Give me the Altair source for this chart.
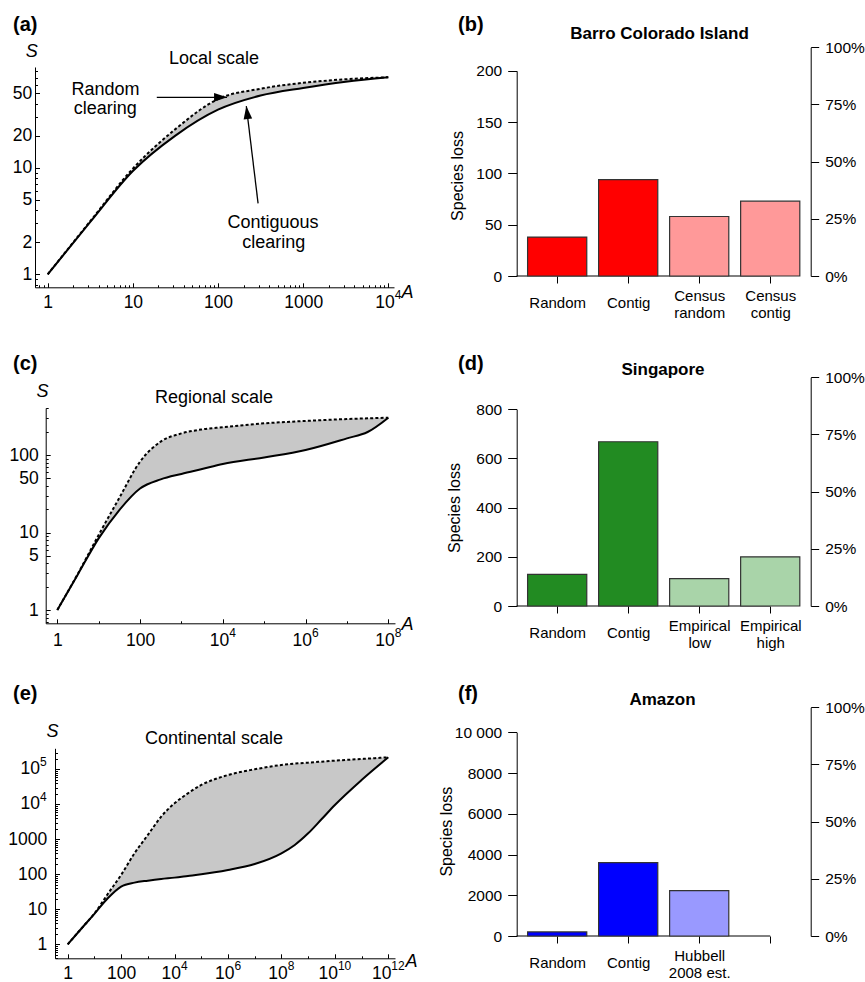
import json
import altair as alt
import pandas as pd

W, H = 865, 982
FONT = "Liberation Sans"

# ---------------- species-area curves: species S at area A ----------------
local_area = [1, 3.16, 10, 31.6, 100, 316, 1000, 3160, 10000]
local_random = [1, 3.15, 9.8, 23, 44, 55, 62.5, 67.5, 70.5]
local_contig = [1, 3.1, 9.3, 20, 35, 47.5, 56, 64, 70.5]

regional_area = [1, 3.16, 10, 31.6, 100, 316, 1e3, 3.16e3, 1e4, 1e5, 1e6, 1e7, 3.16e7, 1e8]
regional_random = [1, 2.95, 9.3, 28, 82, 149, 190, 214, 228, 256, 275, 291, 297, 303]
regional_contig = [1, 2.9, 8.4, 19.5, 37, 48.5, 57, 66, 76.5, 93, 116, 164, 198, 303]

continental_area = [1, 3.16, 10, 31.6, 100, 316, 1e3, 3.16e3, 1e4, 3.16e4, 1e5, 3.16e5,
                    1e6, 1e7, 1e8, 3.16e8, 1e9, 3.16e9, 1e10, 1e11, 1e12]
continental_random = [1, 2.75, 7.6, 27.4, 96, 398, 1330, 4440, 10700, 20600, 35700, 51800,
                      68900, 100000, 133000, 145000, 155000, 165600, 177000, 197000, 220000]
continental_contig = [1, 2.74, 7.4, 20.6, 44.4, 57.8, 65.9, 73.6, 80.3, 89.6, 100, 114,
                      133, 197, 398, 689, 1480, 3730, 9550, 49500, 220000]

# labelled ticks of the log axes ("10^4" is drawn as 10 with a raised 4)
local_x_ticks = [1, 10, 100, 1000, 1e4]
local_x_labels = ["1", "10", "100", "1000", "10^4"]
local_y_ticks = [1, 2, 5, 10, 20, 50]
local_y_labels = ["1", "2", "5", "10", "20", "50"]
regional_x_ticks = [1, 100, 1e4, 1e6, 1e8]
regional_x_labels = ["1", "100", "10^4", "10^6", "10^8"]
regional_y_ticks = [1, 5, 10, 50, 100]
regional_y_labels = ["1", "5", "10", "50", "100"]
continental_x_ticks = [1, 100, 1e4, 1e6, 1e8, 1e10, 1e12]
continental_x_labels = ["1", "100", "10^4", "10^6", "10^8", "10^10", "10^12"]
continental_y_ticks = [1, 10, 100, 1000, 1e4, 1e5]
continental_y_labels = ["1", "10", "100", "1000", "10^4", "10^5"]

# ---------------- species loss per clearing scenario ----------------
bci_labels = [["Random"], ["Contig"], ["Census", "random"], ["Census", "contig"]]
bci_loss = [38, 94, 58, 73]
bci_fill = ["#ff0000", "#ff0000", "#ff9999", "#ff9999"]
bci_pool = 223
bci_ticks = [0, 50, 100, 150, 200]

sing_labels = [["Random"], ["Contig"], ["Empirical", "low"], ["Empirical", "high"]]
sing_loss = [129, 668, 111, 200]
sing_fill = ["#228b22", "#228b22", "#a9d4a9", "#a9d4a9"]
sing_pool = 930
sing_ticks = [0, 200, 400, 600, 800]

amaz_labels = [["Random"], ["Contig"], ["Hubbell", "2008 est."], [""]]
amaz_loss = [200, 3600, 2230]
amaz_fill = ["#0000ff", "#0000ff", "#9999ff"]
amaz_pool = 11230
amaz_ticks = [0, 2000, 4000, 6000, 8000, 10000]

pct_ticks = [0, 0.25, 0.5, 0.75, 1.0]

MAJ, MIN = 4.5, 2.5          # tick lengths of the log axes
CURVE_FONT = 17.5
SUP_FONT = 12
BASE_W = 2 * 0.556 * CURVE_FONT   # width of "10"
SUP_W = 0.556 * SUP_FONT          # width of one exponent digit
SUP_RISE = 8.5


def minor_ticks(lo, hi, mults, skip):
    out = []
    e = -2
    while 10 ** e <= hi:
        for m in mults:
            v = float(m * 10 ** e) if e >= 0 else round(m * 10 ** e, 6)
            if lo < v < hi and v not in skip:
                out.append(v)
        e += 1
    return out


def label_expr(values, labels):
    parts = "".join(
        f"datum.value === {json.dumps(float(v))} ? {json.dumps(t)} : "
        for v, t in zip(values, labels) if "^" not in t)
    return parts + "''"


def log_axis(orient, offset, major, labels, minor, **kw):
    majf = [float(v) for v in major]
    return alt.Axis(
        orient=orient, offset=offset, title=None,
        values=sorted(set(majf) | set(minor)),
        labelExpr=label_expr(majf, labels),
        tickSize={"condition": {"test": f"indexof({json.dumps(majf)}, datum.value) >= 0",
                                "value": MAJ}, "value": MIN},
        labelFontSize=CURVE_FONT, domainWidth=1, tickWidth=1, **kw)


def power_frame(ticks, labels, field):
    rows = [{field: float(v), "base": l.split("^")[0], "exp": l.split("^")[1]}
            for v, l in zip(ticks, labels) if "^" in l]
    return pd.DataFrame(rows)


def curve_panel(area, random, contig, x_dom, x_rng, y_dom, y_rng,
                xt, xl, x_mult, yt, yl, xlab_gap, ylab_gap, extra=None):
    df = pd.DataFrame({"A": area, "random": random, "contig": contig})
    xs = alt.Scale(type="log", domain=x_dom, range=x_rng)
    ys = alt.Scale(type="log", domain=y_dom, range=y_rng)
    # ticks point into the plot: x axis drawn as a "top" axis, y axis as a "right" axis
    x_axis = log_axis("top", -y_rng[0], xt, xl,
                      minor_ticks(x_dom[0], x_dom[1], x_mult, set(float(v) for v in xt)),
                      labelBaseline="top", labelAlign="center",
                      labelPadding=-(xlab_gap + MAJ))
    y_axis = log_axis("right", x_rng[0] - W, yt, yl,
                      minor_ticks(y_dom[0], y_dom[1], range(1, 10), set(float(v) for v in yt)),
                      labelBaseline="middle", labelAlign="right",
                      labelPadding=-(ylab_gap + MAJ))
    X = alt.X("A:Q", scale=xs, axis=x_axis)
    base = alt.Chart(df)
    band = base.mark_area(color="#c8c8c8", interpolate="monotone").encode(
        x=X, y=alt.Y("random:Q", scale=ys, axis=y_axis), y2="contig:Q")
    rnd = base.mark_line(color="black", strokeWidth=2, strokeDash=[3, 2.2],
                         interpolate="monotone").encode(
        x=X, y=alt.Y("random:Q", scale=ys, axis=y_axis))
    con = base.mark_line(color="black", strokeWidth=2, interpolate="monotone").encode(
        x=X, y=alt.Y("contig:Q", scale=ys, axis=y_axis))
    layers = [band, rnd, con]

    # powers of ten on the x axis: "10" plus a raised exponent, centred on the tick
    xp = power_frame(xt, xl, "A")
    if len(xp):
        y_base = y_rng[0] + xlab_gap + round(0.79 * CURVE_FONT)
        for n in sorted(xp["exp"].str.len().unique()):
            sub = xp[xp["exp"].str.len() == n]
            dx = (BASE_W - n * SUP_W) / 2
            pos = alt.Chart(sub).encode(x=alt.X("A:Q", scale=xs, axis=x_axis), y=alt.value(y_base))
            layers.append(pos.mark_text(font=FONT, fontSize=CURVE_FONT, align="right", dx=dx,
                                        baseline="alphabetic", color="black").encode(text="base:N"))
            layers.append(pos.mark_text(font=FONT, fontSize=SUP_FONT, align="left", dx=dx,
                                        dy=-SUP_RISE, baseline="alphabetic",
                                        color="black").encode(text="exp:N"))
    # powers of ten on the y axis, right-aligned against the axis
    yp = power_frame(yt, yl, "S")
    if len(yp):
        x_right = x_rng[0] - ylab_gap
        mid = round(0.30 * CURVE_FONT)
        for n in sorted(yp["exp"].str.len().unique()):
            sub = yp[yp["exp"].str.len() == n]
            pos = alt.Chart(sub).encode(y=alt.Y("S:Q", scale=ys, axis=y_axis))
            layers.append(pos.mark_text(font=FONT, fontSize=SUP_FONT, align="right",
                                        dy=mid - SUP_RISE, baseline="alphabetic",
                                        color="black").encode(x=alt.value(x_right), text="exp:N"))
            layers.append(pos.mark_text(font=FONT, fontSize=CURVE_FONT, align="right",
                                        dy=mid, baseline="alphabetic",
                                        color="black").encode(x=alt.value(x_right - n * SUP_W),
                                                              text="base:N"))
    if extra is not None:
        layers += extra(xs, ys, x_axis, y_axis)
    return alt.layer(*layers)


# arrows pointing at the two curves of the local-scale panel (tail -> head, in A and S)
arrow_tail_A = [19.1, 295.6]
arrow_tail_S = [45.7, 4.63]
arrow_head_A = [127.7, 215.0]
arrow_head_S = [45.7, 37.8]
HEAD = "M0,0L-1,-0.33L-1,0.33Z"


def local_arrows(xs, ys, x_axis, y_axis):
    df = pd.DataFrame({"A0": arrow_tail_A, "S0": arrow_tail_S,
                       "A1": arrow_head_A, "S1": arrow_head_S})
    shafts = alt.Chart(df).mark_rule(color="black", strokeWidth=1.3).encode(
        x=alt.X("A0:Q", scale=xs, axis=x_axis), x2="A1:Q",
        y=alt.Y("S0:Q", scale=ys, axis=y_axis), y2="S1:Q")
    heads = []
    for i, ang in enumerate([0, 263]):
        heads.append(alt.Chart(df.iloc[[i]]).mark_point(
            shape=HEAD, filled=True, color="black", opacity=1, size=676, angle=ang,
            strokeWidth=0).encode(
            x=alt.X("A1:Q", scale=xs, axis=x_axis),
            y=alt.Y("S1:Q", scale=ys, axis=y_axis)))
    return [shafts] + heads


# ---------------- bar panels (barplot geometry: width 1, space 0.2) ----------------
SPACE = 0.2
N_SLOTS = 4
X_LO = SPACE - 0.04 * (N_SLOTS * (1 + SPACE) - SPACE)
X_HI = N_SLOTS * (1 + SPACE) + 0.04 * (N_SLOTS * (1 + SPACE) - SPACE)
X_RNG = [516.7, 810.7]
PCT_H = 228.7                 # pixel height of the 0-100 % axis
CENTERS = [SPACE + 0.5 + i * (1 + SPACE) for i in range(N_SLOTS)]


def bar_panel(lines, loss, fills, pool, ticks, y0):
    n = len(loss)
    df = pd.DataFrame({"loss": loss, "fill": fills,
                       "left": [SPACE + i * (1 + SPACE) for i in range(n)],
                       "right": [SPACE + 1 + i * (1 + SPACE) for i in range(n)]})
    ymax = ticks[-1]
    xs = alt.Scale(domain=[X_LO, X_HI], range=X_RNG)
    ys = alt.Scale(domain=[0, ymax], range=[y0, y0 - PCT_H * ymax / pool], zero=False, nice=False)
    x_axis = alt.Axis(
        orient="bottom", offset=-(H - y0), title=None, values=CENTERS, domain=False,
        labelExpr=f"{json.dumps(lines)}[round((datum.value - {CENTERS[0]}) / {1 + SPACE})]",
        tickSize=7, labelFontSize=15, labelLineHeight=17, labelBaseline="top",
        labelPadding={"condition": {"test": f"datum.value > {CENTERS[1] + 0.1}", "value": 5},
                      "value": 12.5})
    y_axis = alt.Axis(
        orient="left", offset=-X_RNG[0], title=None, values=ticks, format="d",
        labelExpr="datum.value >= 10000 ? replace(format(datum.value, ','), ',', ' ') : datum.label",
        tickSize=9, labelPadding=6, labelFontSize=15.5)
    bars = alt.Chart(df).mark_bar(stroke="#333333", strokeWidth=1.2).encode(
        x=alt.X("left:Q", scale=xs, axis=x_axis), x2="right:Q",
        y=alt.Y("loss:Q", scale=ys, axis=y_axis), y2=alt.datum(0),
        fill=alt.Fill("fill:N", scale=None))
    base_line = alt.Chart(pd.DataFrame({"x0": [X_LO], "x1": [CENTERS[-1]], "y": [0]})).mark_rule(
        color="black", strokeWidth=1).encode(
        x=alt.X("x0:Q", scale=xs, axis=x_axis), x2="x1:Q",
        y=alt.Y("y:Q", scale=ys, axis=y_axis))
    pct = alt.Chart(pd.DataFrame({"share": [0.0, 1.0]})).mark_point(opacity=0).encode(
        y=alt.Y("share:Q", scale=alt.Scale(domain=[0, 1], range=[y0, y0 - PCT_H], nice=False),
                axis=alt.Axis(orient="right", offset=X_RNG[1] - W, title=None, values=pct_ticks,
                              format=".0%", tickSize=8, labelPadding=6, labelFontSize=15.5)))
    return alt.layer(alt.layer(base_line, bars), pct).resolve_scale(y="independent")


def text(t, x, y, size, weight="normal", style="normal", align="center",
         baseline="alphabetic", angle=0):
    return alt.Chart(alt.Data(values=[{"t": t}])).mark_text(
        font=FONT, fontSize=size, fontWeight=weight, fontStyle=style, align=align,
        baseline=baseline, angle=angle, color="black").encode(
        text="t:N", x=alt.value(x), y=alt.value(y))


panel_a = curve_panel(local_area, local_random, local_contig,
                      [0.709, 11670], [35, 394], [0.755, 88], [287.3, 67],
                      local_x_ticks, local_x_labels, range(1, 10),
                      local_y_ticks, local_y_labels, 6.5, 3.3, extra=local_arrows)
panel_c = curve_panel(regional_area, regional_random, regional_contig,
                      [0.525, 1.45e8], [45.7, 395], [0.674, 404], [623.3, 408],
                      regional_x_ticks, regional_x_labels, [1],
                      regional_y_ticks, regional_y_labels, 8.5, 7.4)
panel_e = curve_panel(continental_area, continental_random, continental_contig,
                      [0.335, 1.78e12], [55, 395], [0.398, 3.98e5], [958.3, 748.3],
                      continental_x_ticks, continental_x_labels, [1],
                      continental_y_ticks, continental_y_labels, 6.5, 8.3)

panel_b = bar_panel(bci_labels, bci_loss, bci_fill, bci_pool, bci_ticks, 276.0)
panel_d = bar_panel(sing_labels, sing_loss, sing_fill, sing_pool, sing_ticks, 606.0)
panel_f = bar_panel(amaz_labels, amaz_loss, amaz_fill, amaz_pool, amaz_ticks, 936.0)

texts = [
    text("(a)", 13, 31, 20, weight="bold", align="left"),
    text("(b)", 458, 31, 20, weight="bold", align="left"),
    text("(c)", 13, 370, 20, weight="bold", align="left"),
    text("(d)", 458, 370, 20, weight="bold", align="left"),
    text("(e)", 13, 700, 20, weight="bold", align="left"),
    text("(f)", 458, 700, 20, weight="bold", align="left"),
    text("Local scale", 214, 63.5, 18),
    text("Regional scale", 214, 403, 18),
    text("Continental scale", 214, 744, 18),
    text("Barro Colorado Island", 659.5, 39.3, 17, weight="bold"),
    text("Singapore", 663, 375, 17, weight="bold"),
    text("Amazon", 662.5, 705, 17, weight="bold"),
    text("S", 31.7, 57.3, 18, style="italic"),
    text("S", 42.5, 396.7, 18, style="italic"),
    text("S", 52.5, 737.3, 18, style="italic"),
    text("A", 407.5, 297.7, 18, style="italic"),
    text("A", 407.5, 630, 18, style="italic"),
    text("A", 411.5, 966.7, 18, style="italic"),
    text("Species loss", 458.3, 176, 16, baseline="middle", angle=270),
    text("Species loss", 455, 508, 16, baseline="middle", angle=270),
    text("Species loss", 446.7, 831.7, 16, baseline="middle", angle=270),
    text("Random", 105.5, 95, 18),
    text("clearing", 105.2, 114.3, 18),
    text("Contiguous", 273, 228.3, 18),
    text("clearing", 273.8, 248.3, 18),
]

chart = alt.layer(panel_a, panel_b, panel_c, panel_d, panel_e, panel_f, *texts).resolve_scale(
    x="independent", y="independent"
).properties(
    width=W, height=H, autosize=alt.AutoSizeParams(type="none"), padding=0
).configure_view(stroke=None).configure_axis(
    labelFont=FONT, labelColor="black", tickColor="black", domainColor="black",
    grid=False, labelOverlap=False, labelFlush=False, labelBound=False
)

chart.save("out.html", embed_options={"renderer": "svg", "actions": False})
